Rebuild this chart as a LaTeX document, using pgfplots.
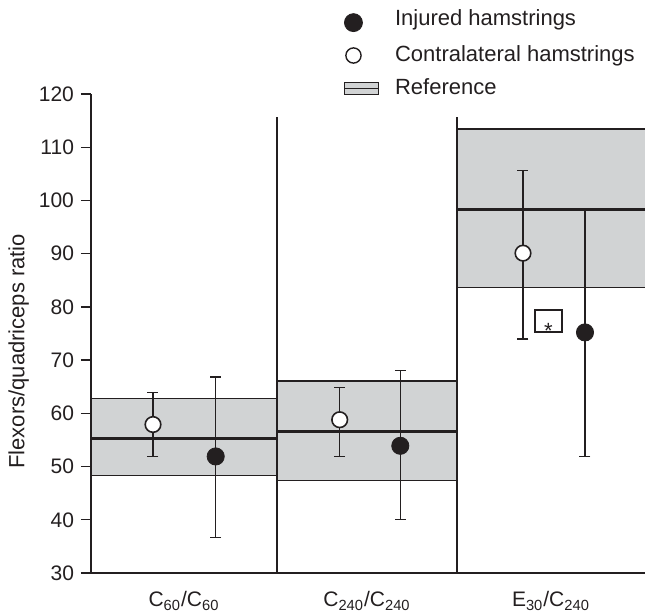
\documentclass[border=0pt]{standalone}
\usepackage{fontspec}
\setmainfont{Liberation Sans}
\usepackage{pgfplots}
\usepackage{pgfplotstable}
\pgfplotsset{compat=1.18}
\definecolor{ink}{RGB}{35,31,32}
\definecolor{refgray}{RGB}{209,211,212}

% contralateral hamstrings (open circles)
\pgfplotstableread{
x y ep em
62 57.9 6.0 6.0
248.7 58.8 6.1 6.9
432 90.1 15.5 16.1
}\contra
% injured hamstrings (filled circles)
\pgfplotstableread{
x y ep em
124.7 51.9 14.9 15.2
309.3 53.9 14.2 13.9
494 75.2 23.0 23.3
}\injured

\begin{document}
\begin{tikzpicture}
\begin{axis}[
  at={(0,0)}, anchor=south west,
  scale only axis, width=277pt, height=239.5pt,
  xmin=0, xmax=554, ymin=30, ymax=120,
  axis x line=bottom, axis y line=left,
  axis line style={-, ink, line width=0.7pt},
  axis on top,
  clip=false,
  ytick={30,40,...,120},
  tick align=outside, major tick length=5pt,
  ytick style={ink, line width=0.7pt},
  xtick={93,276,460}, xtick style={draw=none},
  xticklabels={C\textsubscript{60}/C\textsubscript{60}, C\textsubscript{240}/C\textsubscript{240}, E\textsubscript{30}/C\textsubscript{240}},
  xticklabel style={anchor=base, yshift=-12pt},
  tick label style={font=\fontsize{10.5}{12}\selectfont, text=ink},
  /pgf/number format/assume math mode=true,
  ylabel={Flexors/quadriceps ratio},
  ylabel style={at={(rel axis cs:-0.1305,0.463)}, anchor=center, font=\fontsize{11}{13}\selectfont, text=ink},
  legend style={draw=none, fill=none, inner sep=0pt, at={(rel axis cs:0.455,1.178)}, anchor=north west,
    row sep=7pt, font=\fontsize{11}{13}\selectfont, text=ink, nodes={inner sep=0pt},
    /tikz/every odd column/.append style={column sep=8pt}},
  legend cell align=left,
]
\addlegendimage{legend image code/.code={\path[draw=none, fill=none] (0pt,0pt) -- (17pt,0pt); \fill[ink] (4.6pt,-2pt) circle (4.5pt);}}
\addlegendentry{Injured hamstrings}
\addlegendimage{legend image code/.code={\path[draw=none, fill=none] (0pt,0pt) -- (17pt,0pt); \draw[ink, line width=0.7pt, fill=white] (4.6pt,0pt) circle (3.8pt);}}
\addlegendentry{Contralateral hamstrings}
\addlegendimage{legend image code/.code={\draw[ink, line width=0.6pt, fill=refgray] (0pt,-2.9pt) rectangle (17pt,2.9pt); \draw[ink, line width=0.8pt] (0pt,0pt) -- (17pt,0pt);}}
\addlegendentry{Reference}

% reference bands
\addplot[forget plot, fill=refgray, draw=none] coordinates {(0,48.36) (186,48.36) (186,62.83) (0,62.83) (0,48.36)};
\addplot[forget plot, fill=refgray, draw=none] coordinates {(186,47.34) (366,47.34) (366,66.08) (186,66.08) (186,47.34)};
\addplot[forget plot, fill=refgray, draw=none] coordinates {(366,83.61) (554,83.61) (554,113.43) (366,113.43) (366,83.61)};
% band borders
\addplot[forget plot, ink, line width=0.6pt] coordinates {(0,48.36) (186,48.36)};
\addplot[forget plot, ink, line width=0.6pt] coordinates {(0,62.83) (186,62.83)};
\addplot[forget plot, ink, line width=0.6pt] coordinates {(186,47.34) (366,47.34)};
\addplot[forget plot, ink, line width=0.6pt] coordinates {(186,66.08) (366,66.08)};
\addplot[forget plot, ink, line width=0.6pt] coordinates {(366,83.61) (554,83.61)};
\addplot[forget plot, ink, line width=0.6pt] coordinates {(366,113.43) (554,113.43)};
% medians
\addplot[forget plot, ink, line width=1.5pt] coordinates {(0,55.24) (186,55.24)};
\addplot[forget plot, ink, line width=1.5pt] coordinates {(186,56.55) (366,56.55)};
\addplot[forget plot, ink, line width=1.5pt] coordinates {(366,98.21) (554,98.21)};
% separators
\addplot[forget plot, ink, line width=0.7pt] coordinates {(186,30) (186,115.7)};
\addplot[forget plot, ink, line width=0.7pt] coordinates {(366,30) (366,115.7)};

% error bars
\pgfplotsset{ebar/.style={forget plot, only marks, mark=none,
  error bars/error bar style={ink, line width=0.7pt},
  error bars/error mark options={rotate=90, mark size=2.75pt, ink, line width=0.7pt}}}
\addplot[ebar, error bars/.cd, y dir=both, y explicit]
  table[x=x, y=y, y error plus=ep, y error minus=em] {\contra};
\addplot[ebar, error bars/.cd, y dir=minus, y explicit]
  table[x=x, y=y, y error minus=em] {\injured};
\addplot[ebar, error bars/.cd, y dir=plus, y explicit]
  table[x=x, y=y, y error plus=ep, skip coords between index={2}{3}] {\injured};
\addplot[ebar, error bars/.cd, y dir=plus, y explicit, error mark=none]
  table[x=x, y=y, y error plus=ep, skip coords between index={0}{2}] {\injured};

% markers
\addplot[forget plot, only marks, mark=*, mark size=3.9pt, mark options={fill=white, draw=ink, line width=0.8pt}]
  table[x=x, y=y] {\contra};
\addplot[forget plot, only marks, mark=*, mark size=4.3pt, mark options={fill=ink, draw=ink}]
  table[x=x, y=y] {\injured};

\node[draw=ink, line width=0.6pt, minimum width=13.5pt, minimum height=11pt, inner sep=0pt, fill=white,
  font=\fontsize{11}{13}\selectfont, text=ink] at (axis cs:457.5,77.35) {\raisebox{-8.6pt}[0pt][0pt]{*}};
\end{axis}
\pgfresetboundingbox
\path (-45.5pt,-21.5pt) rectangle (277pt,286.5pt);
\end{tikzpicture}
\end{document}
